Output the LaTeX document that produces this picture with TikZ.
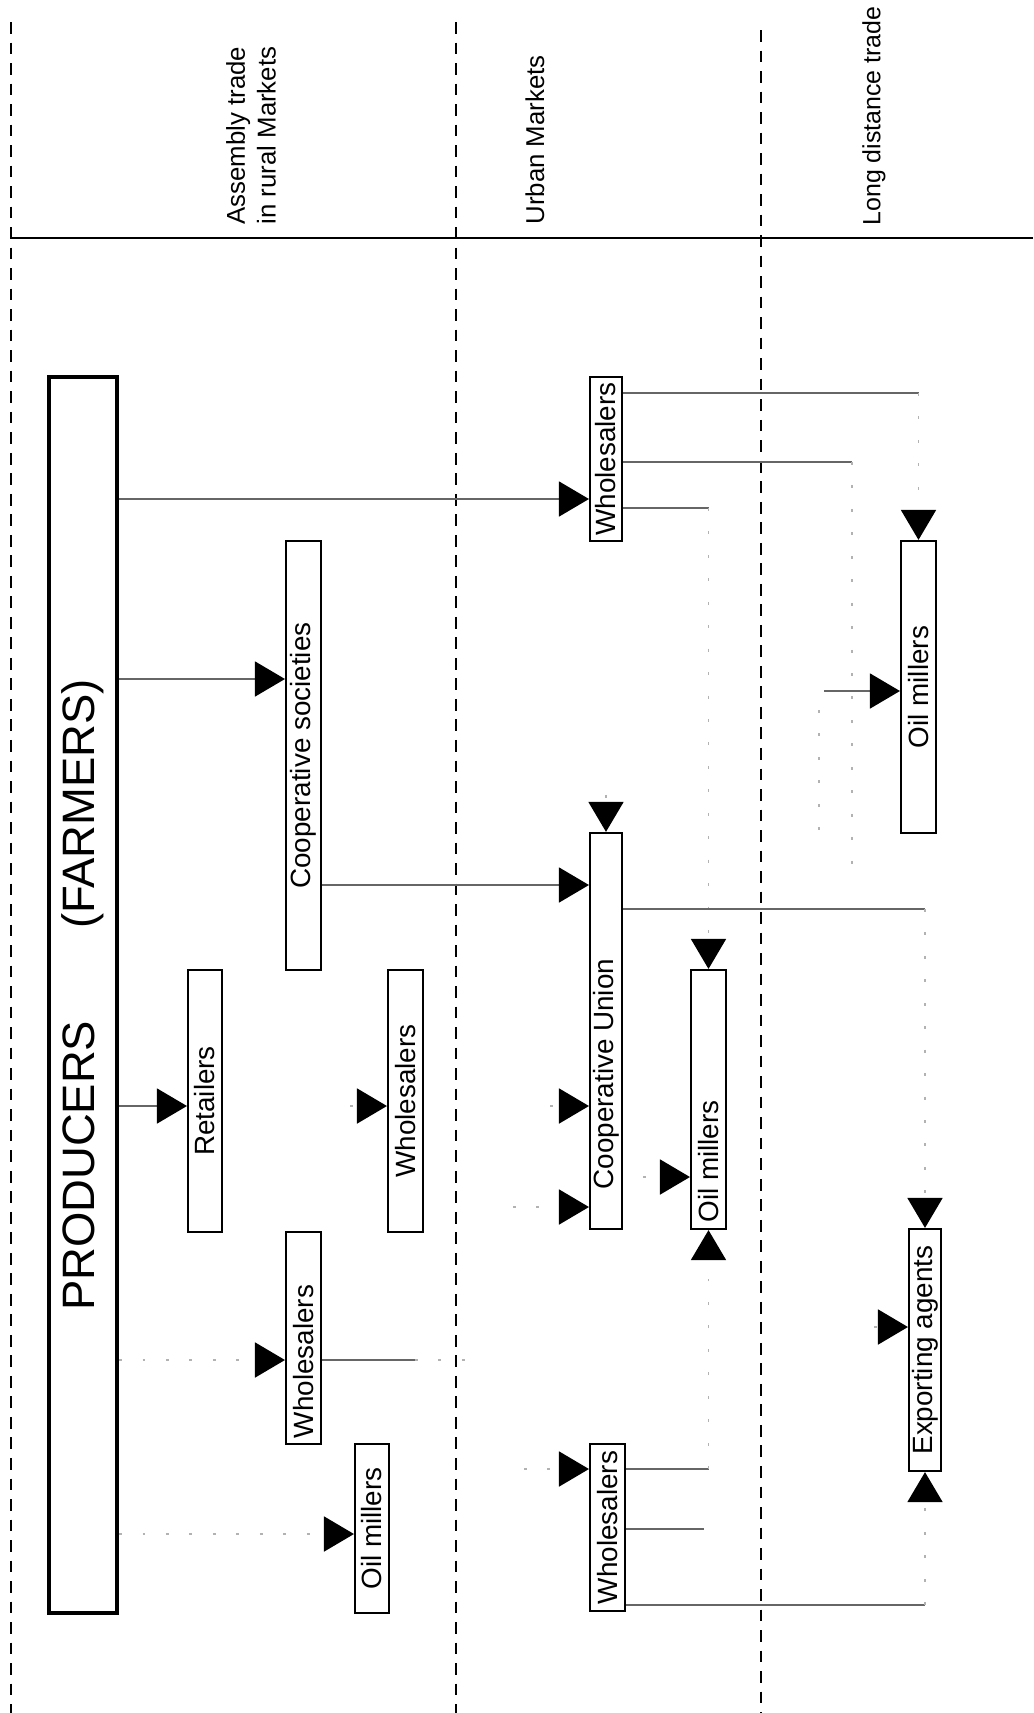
\documentclass[tikz,border=0pt]{standalone}
\usepackage{fontspec}
\setmainfont{Liberation Sans}
\usetikzlibrary{arrows.meta, positioning}
\tikzstyle{flow} = [
    draw=black!60,
    line width=0.5pt,
    -{Triangle[length=3.6mm, width=4.2mm, color=black]}
]

\begin{document}
\begin{tikzpicture}[
    x=0.012cm, y=-0.012cm,
    box/.style={
        rectangle,
        draw,
        line width=0.7pt,
        inner sep=0pt,
        font=\fontsize{9.5}{11}\selectfont
    },
    bigbox/.style={
        box,
        line width=1.4pt,
        font=\fontsize{15.5}{18}\selectfont
    },
    link/.style={draw=black!60, line width=0.5pt},
    faint/.style={draw=gray!60, line width=0.6pt, dash pattern=on 1pt off 7pt},
    zone/.style={line width=0.8pt, dash pattern=on 4pt off 3pt},
    header/.style={rotate=90, anchor=west, align=left, inner sep=0pt, font=\fontsize{8.8}{10.5}\selectfont}
]
\useasboundingbox (0,0) rectangle (1033,1713);

% Market zones
\draw[zone] (11,22) -- (11,1713);
\draw[zone] (456,22) -- (456,1713);
\draw[zone] (761,30) -- (761,1713);
\draw[line width=1pt] (11,238) -- (1033,238);

\node[header] (hAssembly) at (251,225) {Assembly trade\\in rural Markets};
\node[header] (hUrban) at (535,225) {Urban Markets};
\node[header, font=\fontsize{8.5}{10}\selectfont] (hLong) at (874,226) {Long distance trade};

% Producers
\node[bigbox, minimum width=0.816cm, minimum height=14.832cm] (producers) at (83,995)
    {\rotatebox{90}{PRODUCERS\hspace{1.1cm}(FARMERS)}};

% Assembly trade
\node[box, minimum width=0.42cm, minimum height=5.148cm] (coopSoc) at (303.5,755.5)
    {\rotatebox{90}{Cooperative societies}};
\node[box, minimum width=0.408cm, minimum height=3.144cm] (retail) at (205,1101)
    {\rotatebox{90}{Retailers}};
\node[box, minimum width=0.42cm, minimum height=3.144cm] (wsAsmMid) at (405.5,1101)
    {\rotatebox{90}{Wholesalers}};
\node[box, minimum width=0.42cm, minimum height=2.544cm] (wsAsmLow) at (303.5,1338)
    {\rotatebox{90}{\makebox[2.4cm][l]{Wholesalers}}};
\node[box, minimum width=0.408cm, minimum height=2.028cm] (oilAsm) at (372,1528.5)
    {\rotatebox{90}{Oil millers}};

% Urban markets
\node[box, minimum width=0.384cm, minimum height=1.968cm] (wsUrbTop) at (606,459)
    {\rotatebox{90}{Wholesalers}};
\node[box, minimum width=0.384cm, minimum height=4.752cm] (coopUnion) at (606,1031)
    {\rotatebox{90}{\makebox[4.4cm][l]{\hspace{0.3cm}Cooperative Union}}};
\node[box, minimum width=0.42cm, minimum height=3.108cm] (oilUrb) at (708.5,1099.5)
    {\rotatebox{90}{\makebox[2.95cm][l]{Oil millers}}};
\node[box, minimum width=0.42cm, minimum height=2.004cm] (wsUrbLow) at (607.5,1527.5)
    {\rotatebox{90}{Wholesalers}};

% Long distance trade
\node[box, minimum width=0.42cm, minimum height=3.504cm] (oilLD) at (918.5,687)
    {\rotatebox{90}{Oil millers}};
\node[box, minimum width=0.384cm, minimum height=2.904cm] (export) at (925,1350)
    {\rotatebox{90}{Exporting agents}};

% Rows
\coordinate (yA) at (0,499);
\coordinate (yB) at (0,679);
\coordinate (yC) at (0,1106);
\coordinate (yE) at (0,1360);
\coordinate (yF) at (0,1534);
\coordinate (yG) at (0,885);
\coordinate (yH) at (0,1207);
\coordinate (yI) at (0,1469);
\coordinate (yJ) at (0,393);
\coordinate (yK) at (0,462);
\coordinate (yL) at (0,508);
\coordinate (yM) at (0,691);
\coordinate (yN) at (0,909);
\coordinate (yO) at (0,1177);
\coordinate (yP) at (0,1529);
\coordinate (yQ) at (0,1605);
\coordinate (yR) at (0,1327);

% Free ends
\coordinate (wsMidSrc) at (350,1106);
\coordinate (cuTopSrc) at (606,795);
\coordinate (cuMidSrc) at (550,1106);
\coordinate (cuLowSrc) at (513,1207);
\coordinate (wsLowSrc) at (524,1469);
\coordinate (oilLDSrc) at (824,691);
\coordinate (oilUrbSrc) at (643,1177);
\coordinate (exportSrc) at (874,1327);
\coordinate (kCorner) at (852,462);
\coordinate (kEnd) at (852,874);
\coordinate (mTop) at (819,710);
\coordinate (mEnd) at (819,841);
\coordinate (eMid) at (415,1360);
\coordinate (eEnd) at (480,1360);
\coordinate (pEnd) at (704,1529);

% From producers
\draw[flow] (producers.east |- yA) -- (wsUrbTop.west |- yA);
\draw[flow] (producers.east |- yB) -- (coopSoc.west |- yB);
\draw[flow] (producers.east |- yC) -- (retail.west |- yC);
\draw[flow, faint] (producers.east |- yE) -- (wsAsmLow.west |- yE);
\draw[flow, faint] (producers.east |- yF) -- (oilAsm.west |- yF);

% Assembly to urban
\draw[flow] (coopSoc.east |- yG) -- (coopUnion.west |- yG);
\draw[flow, faint] (wsMidSrc) -- (wsAsmMid.west |- yC);
\draw[flow, faint] (cuTopSrc) -- (coopUnion.north);
\draw[flow, faint] (cuMidSrc) -- (coopUnion.west |- yC);
\draw[flow, faint] (cuLowSrc) -- (coopUnion.west |- yH);
\draw[link] (wsAsmLow.east |- yE) -- (eMid);
\draw[faint] (eMid) -- (eEnd);
\draw[flow, faint] (wsLowSrc) -- (wsUrbLow.west |- yI);

% Urban wholesalers (top)
\draw[link] (wsUrbTop.east |- yJ) -- (oilLD.north |- yJ);
\draw[flow, faint] (oilLD.north |- yJ) -- (oilLD.north);
\draw[link] (wsUrbTop.east |- yK) -- (kCorner);
\draw[faint] (kCorner) -- (kEnd);
\draw[faint] (mTop) -- (mEnd);
\draw[flow] (oilLDSrc) -- (oilLD.west |- yM);
\draw[link] (wsUrbTop.east |- yL) -- (oilUrb.north |- yL);
\draw[flow, faint] (oilUrb.north |- yL) -- (oilUrb.north);

% Cooperative union
\draw[link] (coopUnion.east |- yN) -- (export.north |- yN);
\draw[flow, faint] (export.north |- yN) -- (export.north);
\draw[flow, faint] (oilUrbSrc) -- (oilUrb.west |- yO);

% Urban wholesalers (bottom)
\draw[link] (wsUrbLow.east |- yI) -- (oilUrb.south |- yI);
\draw[flow, faint] (oilUrb.south |- yI) -- (oilUrb.south);
\draw[link] (wsUrbLow.east |- yP) -- (pEnd);
\draw[link] (wsUrbLow.east |- yQ) -- (export.south |- yQ);
\draw[flow, faint] (export.south |- yQ) -- (export.south);
\draw[flow, faint] (exportSrc) -- (export.west |- yR);

\end{tikzpicture}
\end{document}
